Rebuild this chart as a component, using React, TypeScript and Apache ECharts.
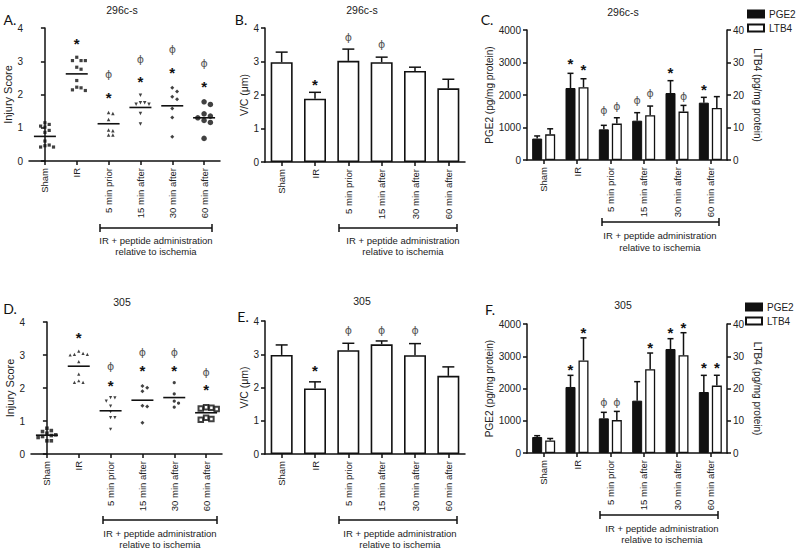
import React, { useEffect, useRef } from 'react';
import * as echarts from 'echarts';

const FONT = 'Liberation Sans, Arial, Helvetica, sans-serif';
const PHI_FONT = 'DejaVu Sans, sans-serif';
const LETTER_FONT = 'Lato, Open Sans, sans-serif';
const INK = '#111';
const TXT = '#222';
const PHI_COLOR = '#555';

// ---------- shared labels ----------
const categories = ['Sham', 'IR', '5 min prior', '15 min after', '30 min after', '60 min after'];
const strainTop = '296c-s';
const strainBottom = '305';
const groupLabel = ['IR + peptide administration', 'relative to ischemia'];

// ---------- Panel A : injury score, 296c-s ----------
const injuryScoresA = [
  [1.15, 1.1, 1.05, 1.02, 0.92, 0.86, 0.6, 0.48, 0.46, 0.42, 0.42],
  [3.12, 3.02, 3.02, 3.02, 2.82, 2.76, 2.42, 2.22, 2.2, 2.14, 2.12],
  [1.46, 1.43, 1.25, 0.93, 0.91, 0.78, 0.78],
  [1.98, 1.75, 1.75, 1.71, 1.71, 1.43, 1.11],
  [2.2, 2.09, 1.93, 1.86, 1.58, 1.31, 0.73],
  [1.78, 1.7, 1.42, 1.35, 1.3, 1.22, 1.16, 0.68],
];
const injuryMeansA = [0.74, 2.62, 1.12, 1.61, 1.66, 1.3];
const injuryStarsA = [null, 3.63, 2.0, 2.49, 2.74, 2.34];
const injuryPhisA = [null, null, 2.59, 3.04, 3.35, 2.94];

// ---------- Panel B : V/C, 296c-s ----------
const vcMeansB = [2.98, 1.89, 3.02, 2.98, 2.72, 2.2];
const vcErrB = [3.28, 2.08, 3.37, 3.13, 2.83, 2.47];
const vcStarsB = [null, 2.4, null, null, null, null];
const vcPhisB = [null, null, 3.72, 3.52, null, null];

// ---------- Panel C : PGE2 / LTB4, 296c-s ----------
const pge2C = [660, 2215, 944, 1210, 2061, 1764];
const pge2ErrC = [740, 2667, 1067, 1456, 2441, 1928];
const pge2StarsC = [null, 3050, null, null, 2770, 2256];
const pge2PhisC = [null, null, 1508, 1846, null, null];
const ltb4C = [7.9, 22.4, 11.2, 13.8, 14.9, 16.0];
const ltb4ErrC = [9.6, 25.0, 13.0, 16.6, 16.8, 19.5];
const ltb4StarsC = [null, 28.7, null, null, null, null];
const ltb4PhisC = [null, null, 16.6, 20.5, 19.5, null];

// ---------- Panel D : injury score, 305 ----------
const injuryScoresD = [
  [0.78, 0.71, 0.68, 0.63, 0.58, 0.56, 0.53, 0.5, 0.4, 0.4],
  [3.12, 3.05, 3.02, 3.02, 3.0, 2.8, 2.42, 2.22, 2.17, 2.17],
  [1.71, 1.7, 1.6, 1.45, 1.28, 1.1, 1.1, 0.75],
  [2.06, 2.01, 1.9, 1.46, 1.44, 0.95],
  [2.16, 1.82, 1.6, 1.54, 1.42],
  [1.42, 1.4, 1.38, 1.36, 1.1, 1.06, 1.04],
];
const injuryMeansD = [0.57, 2.66, 1.31, 1.63, 1.71, 1.25];
const injuryStarsD = [null, 3.62, 2.18, 2.63, 2.63, 2.06];
const injuryPhisD = [null, null, 2.64, 3.07, 3.07, 2.46];

// ---------- Panel E : V/C, 305 ----------
const vcMeansE = [2.98, 1.97, 3.12, 3.3, 2.97, 2.35];
const vcErrE = [3.28, 2.17, 3.33, 3.4, 3.32, 2.62];
const vcStarsE = [null, 2.6, null, null, null, null];
const vcPhisE = [null, null, 3.7, 3.7, 3.7, null];

// ---------- Panel F : PGE2 / LTB4, 305 ----------
const pge2F = [496, 2047, 1075, 1623, 3225, 1891];
const pge2ErrF = [537, 2408, 1261, 2212, 3545, 2408];
const pge2StarsF = [null, 2687, null, null, 3824, 2739];
const pge2PhisF = [null, null, 1571, null, null, null];
const ltb4F = [3.9, 28.7, 10.2, 26.0, 30.3, 20.9];
const ltb4ErrF = [4.5, 35.7, 12.9, 31.0, 37.3, 24.1];
const ltb4StarsF = [null, 38.2, null, 33.6, 39.8, 27.4];
const ltb4PhisF = [null, null, 15.7, null, null, null];

// ---------- marker styles ----------
const symbolsA = ['rect', 'rect', 'triangle', 'triangle', 'diamond', 'circle'];
const rotateA = [0, 0, 0, 180, 0, 0];
const sizesA = [3.2, 3.2, 3.5, 3.5, 4, 5.5];
const symbolsD = ['rect', 'triangle', 'triangle', 'diamond', 'circle', 'emptyRect'];
const rotateD = [0, 0, 180, 0, 0, 0];
const sizesD = [3.6, 3.2, 3.2, 4, 3.2, 4.5];

// ---------- helpers ----------
function swarm(values: number[], cat: number, pxX: number, pxY: number, size: number) {
  const placed: { x: number; y: number }[] = [];
  const out: number[][] = [];
  const order = values.map((_, i) => i).sort((a, b) => values[b] - values[a]);
  for (const i of order) {
    const ypx = values[i] * pxY;
    let off = 0;
    for (let k = 0; k < 30; k++) {
      const cand = k === 0 ? 0 : (k % 2 ? 1 : -1) * Math.ceil(k / 2) * size;
      const hit = placed.some((p) => Math.abs(p.y - ypx) < size && Math.abs(p.x - cand) < size * 0.9);
      if (!hit) {
        off = cand;
        break;
      }
    }
    placed.push({ x: off, y: ypx });
    out.push([cat + off / pxX, values[i]]);
  }
  return out;
}

function textEl(text: string, x: number, y: number, font: string, fill: string) {
  return {
    type: 'text',
    x,
    y,
    style: {
      text,
      font,
      fill,
      align: 'center',
      verticalAlign: 'middle',
      textAlign: 'center',
      textVerticalAlign: 'middle',
    },
  };
}

function addMarks(children: any[], api: any, i: number, x: number, stars: (number | null)[], phis: (number | null)[]) {
  if (stars && stars[i] != null) {
    const p = api.coord([i, stars[i]]);
    children.push(textEl('*', x, p[1] + 3, `bold 15px ${FONT}`, INK));
  }
  if (phis && phis[i] != null) {
    const p = api.coord([i, phis[i]]);
    children.push(textEl('\u03D5', x, p[1], `11px ${PHI_FONT}`, PHI_COLOR));
  }
}

function errSeries(
  xAxisIndex: number,
  yAxisIndex: number,
  means: number[],
  errs: number[],
  stars: (number | null)[],
  phis: (number | null)[],
  offsetPx: number,
  capHalf: number
) {
  return {
    type: 'custom',
    xAxisIndex,
    yAxisIndex,
    silent: true,
    z: 4,
    data: means.map((m, i) => [i, m]),
    renderItem: (params: any, api: any) => {
      const i = params.dataIndex;
      const base = api.coord([i, means[i]]);
      const top = api.coord([i, errs[i]]);
      const x = base[0] + offsetPx;
      const children: any[] = [
        { type: 'line', shape: { x1: x, y1: base[1], x2: x, y2: top[1] }, style: { stroke: INK, lineWidth: 1.5 } },
        { type: 'line', shape: { x1: x - capHalf, y1: top[1], x2: x + capHalf, y2: top[1] }, style: { stroke: INK, lineWidth: 1.5 } },
      ];
      addMarks(children, api, i, x, stars, phis);
      return { type: 'group', children };
    },
  };
}

function meanSeries(
  xAxisIndex: number,
  yAxisIndex: number,
  means: number[],
  stars: (number | null)[],
  phis: (number | null)[],
  halfWidth: number
) {
  return {
    type: 'custom',
    xAxisIndex,
    yAxisIndex,
    silent: true,
    z: 6,
    data: means.map((m, i) => [i, m]),
    renderItem: (params: any, api: any) => {
      const i = params.dataIndex;
      const p = api.coord([i, means[i]]);
      const children: any[] = [
        { type: 'line', shape: { x1: p[0] - halfWidth, y1: p[1], x2: p[0] + halfWidth, y2: p[1] }, style: { stroke: INK, lineWidth: 1.6 } },
      ];
      addMarks(children, api, i, p[0], stars, phis);
      return { type: 'group', children };
    },
  };
}

const axisLineStyle = { lineStyle: { color: INK, width: 1.5 } };
const axisTickStyle = { show: true, length: 4, lineStyle: { color: INK, width: 1.5 } };

function catAxis(gridIndex: number) {
  return {
    type: 'category',
    gridIndex,
    data: categories,
    boundaryGap: true,
    axisLine: axisLineStyle,
    axisTick: { ...axisTickStyle, alignWithLabel: true },
    axisLabel: { rotate: 90, interval: 0, margin: 7, fontSize: 9.5, color: TXT, fontFamily: FONT },
    splitLine: { show: false },
  };
}

function hiddenValAxis(gridIndex: number) {
  return { type: 'value', gridIndex, min: -0.5, max: 5.5, show: false, splitLine: { show: false } };
}

function valAxis(
  gridIndex: number,
  max: number,
  interval: number,
  name: string,
  nameGap: number,
  nameSize: number,
  right = false
) {
  return {
    type: 'value',
    gridIndex,
    min: 0,
    max,
    interval,
    position: right ? 'right' : 'left',
    name,
    nameLocation: 'middle',
    nameGap,
    nameRotate: right ? -90 : 90,
    nameTextStyle: { fontSize: nameSize, color: TXT, fontFamily: FONT },
    axisLine: { show: true, ...axisLineStyle },
    axisTick: axisTickStyle,
    axisLabel: { fontSize: 10, color: TXT, margin: 6, fontFamily: FONT, formatter: (v: number) => String(v) },
    splitLine: { show: false },
  };
}

function scatterSeries(
  scores: number[][],
  xAxisIndex: number,
  yAxisIndex: number,
  pxX: number,
  pxY: number,
  symbols: string[],
  rotates: number[],
  sizes: number[]
) {
  return scores.map((vals, c) => ({
    type: 'scatter',
    xAxisIndex,
    yAxisIndex,
    silent: true,
    symbol: symbols[c],
    symbolRotate: rotates[c],
    symbolSize: sizes[c],
    itemStyle: { color: INK, borderColor: INK, borderWidth: symbols[c] === 'emptyRect' ? 1 : 0 },
    data: swarm(vals, c, pxX, pxY, Math.max(sizes[c], 3.5) + 0.8),
  }));
}

function barPair(xAxisIndex: number, yL: number, yR: number, pge2: number[], ltb4: number[]) {
  return [
    {
      type: 'bar',
      name: 'PGE2',
      xAxisIndex,
      yAxisIndex: yL,
      data: pge2,
      barWidth: 10,
      barGap: '30%',
      silent: true,
      itemStyle: { color: INK, borderColor: INK, borderWidth: 1 },
    },
    {
      type: 'bar',
      name: 'LTB4',
      xAxisIndex,
      yAxisIndex: yR,
      data: ltb4,
      barWidth: 10,
      barGap: '30%',
      silent: true,
      itemStyle: { color: '#fff', borderColor: INK, borderWidth: 1.3 },
    },
  ];
}

function singleBar(xAxisIndex: number, yAxisIndex: number, values: number[]) {
  return {
    type: 'bar',
    xAxisIndex,
    yAxisIndex,
    data: values,
    barWidth: 22,
    silent: true,
    itemStyle: { color: '#fff', borderColor: INK, borderWidth: 1.6 },
  };
}

function gText(text: string, x: number, y: number, font: string, fill = TXT) {
  return {
    type: 'text',
    x,
    y,
    silent: true,
    style: { text, font, fill, align: 'center', verticalAlign: 'middle', textAlign: 'center', textVerticalAlign: 'middle' },
  };
}

function gLine(x1: number, y1: number, x2: number, y2: number) {
  return { type: 'line', silent: true, shape: { x1, y1, x2, y2 }, style: { stroke: INK, lineWidth: 1.5 } };
}

function bracket(x1: number, x2: number, y: number, cx: number, ty1: number, ty2: number) {
  return [
    gLine(x1, y, x2, y),
    gLine(x1, y - 4, x1, y + 4),
    gLine(x2, y - 4, x2, y + 4),
    gText(groupLabel[0], cx, ty1, `9.5px ${FONT}`),
    gText(groupLabel[1], cx, ty2, `9.5px ${FONT}`),
  ];
}

function buildOption() {
  const grids = [
    { left: 29, top: 28, width: 191, height: 133 },
    { left: 265, top: 28, width: 200, height: 134 },
    { left: 527, top: 30, width: 200, height: 130 },
    { left: 31, top: 322, width: 191, height: 132 },
    { left: 265, top: 321, width: 200, height: 133 },
    { left: 527, top: 324, width: 200, height: 129 },
  ];

  const xAxis = [
    catAxis(0), // 0 A
    hiddenValAxis(0), // 1 A points
    catAxis(1), // 2 B
    catAxis(2), // 3 C
    catAxis(3), // 4 D
    hiddenValAxis(3), // 5 D points
    catAxis(4), // 6 E
    catAxis(5), // 7 F
  ];

  const yAxis = [
    valAxis(0, 4, 1, 'Injury Score', 12, 11), // 0 A
    valAxis(1, 4, 1, 'V/C (\u03BCm)', 14, 10.5), // 1 B
    valAxis(2, 4000, 1000, 'PGE2 (pg/mg protein)', 30, 10), // 2 C left
    valAxis(2, 40, 10, 'LTB4 (pg/mg protein)', 25, 10, true), // 3 C right
    valAxis(3, 4, 1, 'Injury Score', 13, 11), // 4 D
    valAxis(4, 4, 1, 'V/C (\u03BCm)', 14, 10.5), // 5 E
    valAxis(5, 4000, 1000, 'PGE2 (pg/mg protein)', 30, 10), // 6 F left
    valAxis(5, 40, 10, 'LTB4 (pg/mg protein)', 25, 10, true), // 7 F right
  ];

  const series: any[] = [
    ...scatterSeries(injuryScoresA, 1, 0, 191 / 6, 133 / 4, symbolsA, rotateA, sizesA),
    meanSeries(0, 0, injuryMeansA, injuryStarsA, injuryPhisA, 11),
    singleBar(2, 1, vcMeansB),
    errSeries(2, 1, vcMeansB, vcErrB, vcStarsB, vcPhisB, 0, 6),
    ...barPair(3, 2, 3, pge2C, ltb4C),
    errSeries(3, 2, pge2C, pge2ErrC, pge2StarsC, pge2PhisC, -6.5, 3),
    errSeries(3, 3, ltb4C, ltb4ErrC, ltb4StarsC, ltb4PhisC, 6.5, 3),
    ...scatterSeries(injuryScoresD, 5, 4, 191 / 6, 132 / 4, symbolsD, rotateD, sizesD),
    meanSeries(4, 4, injuryMeansD, injuryStarsD, injuryPhisD, 11),
    singleBar(6, 5, vcMeansE),
    errSeries(6, 5, vcMeansE, vcErrE, vcStarsE, vcPhisE, 0, 6),
    ...barPair(7, 6, 7, pge2F, ltb4F),
    errSeries(7, 6, pge2F, pge2ErrF, pge2StarsF, pge2PhisF, -6.5, 3),
    errSeries(7, 7, ltb4F, ltb4ErrF, ltb4StarsF, ltb4PhisF, 6.5, 3),
  ];

  const legendCommon = {
    data: ['PGE2', 'LTB4'],
    orient: 'vertical',
    icon: 'rect',
    itemWidth: 16,
    itemHeight: 7,
    itemGap: 4,
    padding: 0,
    selectedMode: false,
    textStyle: { fontSize: 10, color: TXT, fontFamily: FONT },
  };

  const letterFont = `14px ${LETTER_FONT}`;
  const titleFont = `10.5px ${FONT}`;

  const graphic = [
    gText('A.', 10, 19, letterFont, INK),
    gText('B.', 241, 19, letterFont, INK),
    gText('C.', 487, 19, letterFont, INK),
    gText('D.', 10, 308, letterFont, INK),
    gText('E.', 243, 316, letterFont, INK),
    gText('F.', 490, 309, letterFont, INK),
    gText(strainTop, 122, 10, titleFont),
    gText(strainTop, 362, 10, titleFont),
    gText(strainTop, 623, 12, titleFont),
    gText(strainBottom, 122, 302, titleFont),
    gText(strainBottom, 362, 301, titleFont),
    gText(strainBottom, 623, 305, titleFont),
    ...bracket(100, 212, 228, 156, 240, 251),
    ...bracket(339, 457, 228, 403, 240, 251),
    ...bracket(602, 719, 222, 660, 235, 247),
    ...bracket(103, 217, 520, 160, 533, 544),
    ...bracket(339, 457, 520, 400, 533, 544),
    ...bracket(600, 718, 515, 662, 528, 539),
  ];

  return {
    animation: false,
    backgroundColor: '#fff',
    textStyle: { fontFamily: FONT },
    grid: grids,
    xAxis,
    yAxis,
    series,
    legend: [
      { ...legendCommon, left: 747, top: 9 },
      { ...legendCommon, left: 745, top: 302 },
    ],
    graphic,
  };
}

export default function App() {
  const ref = useRef<HTMLDivElement>(null);
  useEffect(() => {
    document.body.style.margin = '0';
    if (!ref.current) return;
    const chart = echarts.init(ref.current, null, { renderer: 'svg' });
    chart.setOption(buildOption() as any);
    return () => chart.dispose();
  }, []);
  return <div ref={ref} style={{ width: 800, height: 552 }} />;
}
